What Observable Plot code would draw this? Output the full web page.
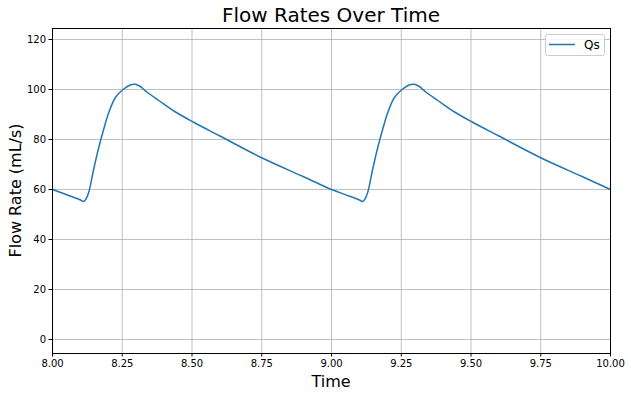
<!DOCTYPE html>
<html><head><meta charset="utf-8">
<script src="https://cdn.jsdelivr.net/npm/d3@7"></script>
<script src="https://cdn.jsdelivr.net/npm/@observablehq/plot@0.6"></script>
<style>body{margin:0;background:#fff;} svg{font-family:"DejaVu Sans";}</style>
</head><body><div id="chart"></div>
<script>
const time = [8.00,8.06,8.104,8.112,8.120,8.130,8.148,8.166,8.184,8.202,8.226,8.253,8.280,8.297,8.315,8.339,8.381,8.438,8.506,8.60,8.746,8.90,
  9.00,9.06,9.104,9.112,9.120,9.130,9.148,9.166,9.184,9.202,9.226,9.253,9.280,9.297,9.315,9.339,9.381,9.438,9.506,9.60,9.746,9.90,10.00];
const qs = [60.0,57.5,55.6,55.2,56.2,58.9,68.3,76.9,84.3,90.9,96.9,100.0,101.9,102.1,101.2,98.9,95.6,91.2,86.9,81.4,72.9,65.1,
  60.0,57.5,55.6,55.2,56.2,58.9,68.3,76.9,84.3,90.9,96.9,100.0,101.9,102.1,101.2,98.9,95.6,91.2,86.9,81.4,72.9,65.1,60.0];
const xTicks = [8.00,8.25,8.50,8.75,9.00,9.25,9.50,9.75,10.00];
const yTicks = [0,20,40,60,80,100,120];
const data = time.map((t,i)=>({t, q: qs[i]}));
const W=631,H=397, mL=52, mR=21, mT=28, mB=44;
const plot = Plot.plot({
  width: W, height: H,
  marginLeft: mL, marginRight: mR, marginTop: mT, marginBottom: mB,
  style: {fontFamily: "DejaVu Sans", fontSize: "10px", color: "black", background: "white"},
  x: {domain: [8, 10]},
  y: {domain: [-5.6, 124.4]},
  marks: [
    Plot.gridX(xTicks, {stroke: "#b0b0b0", strokeOpacity: 1, strokeWidth: 0.8}),
    Plot.gridY(yTicks, {stroke: "#b0b0b0", strokeOpacity: 1, strokeWidth: 0.8}),
    Plot.line(data, {x: "t", y: "q", stroke: "#1f77b4", strokeWidth: 1.5, curve: "catmull-rom"}),
    Plot.frame({stroke: "black", strokeWidth: 1}),
    Plot.axisX(xTicks, {tickFormat: d => d.toFixed(2), tickSize: 3.5, tickPadding: 3, label: null, fontSize: 10}),
    Plot.axisY(yTicks, {tickFormat: d => d, tickSize: 3.5, tickPadding: 3, label: null, fontSize: 10})
  ]
});
document.getElementById("chart").append(plot);
const svg = d3.select(plot);
svg.append("text").attr("x", mL + (W-mL-mR)/2).attr("y", 22).attr("text-anchor","middle")
  .attr("font-size", 20).attr("fill","black").text("Flow Rates Over Time");
svg.append("text").attr("x", mL + (W-mL-mR)/2).attr("y", 387).attr("text-anchor","middle")
  .attr("font-size", 16).attr("fill","black").text("Time");
svg.append("text").attr("transform", `translate(21,${mT + (H-mT-mB)/2}) rotate(-90)`).attr("text-anchor","middle")
  .attr("font-size", 16).attr("fill","black").text("Flow Rate (mL/s)");
const lg = svg.append("g");
lg.append("rect").attr("x",545.5).attr("y",34.5).attr("width",59).attr("height",21).attr("rx",2)
  .attr("fill","white").attr("fill-opacity",0.8).attr("stroke","#cccccc");
lg.append("line").attr("x1",549).attr("x2",575).attr("y1",44.5).attr("y2",44.5).attr("stroke","#1f77b4").attr("stroke-width",1.5);
lg.append("text").attr("x",584).attr("y",49).attr("text-anchor","start").attr("font-size",12).attr("fill","black").text("Qs");
</script></body></html>
